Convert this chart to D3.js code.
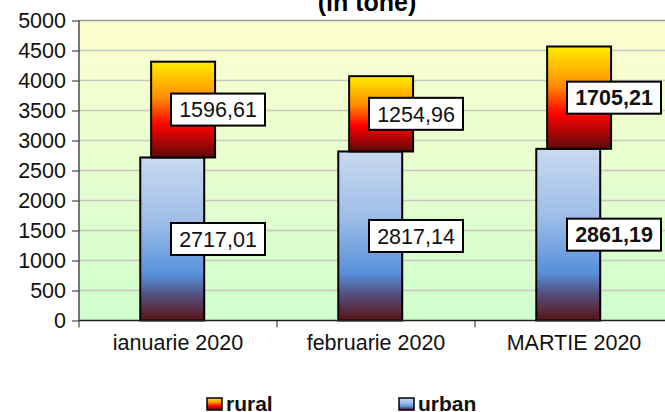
<!DOCTYPE html>
<html>
<head>
<meta charset="utf-8">
<script src="https://cdn.jsdelivr.net/npm/d3@7"></script>
<style>
  body { margin: 0; background: #fff; }
  svg { display: block; font-family: "Liberation Sans", Arial, sans-serif; }
</style>
</head>
<body>
<div class="chart"></div>
<script>
// data (tone)
const months = ['ianuarie 2020', 'februarie 2020', 'MARTIE 2020'];
const urban = [2717.01, 2817.14, 2861.19];
const rural = [1596.61, 1254.96, 1705.21];
const boldLabels = [false, false, true];
const yTicks = [0, 500, 1000, 1500, 2000, 2500, 3000, 3500, 4000, 4500, 5000];
const seriesNames = ['rural', 'urban'];

const width = 665, height = 412;
const plot = {left: 79, top: 20.5, bottom: 320.5, right: 673};

const svg = d3.select('.chart').append('svg')
    .attr('width', width)
    .attr('height', height);

const defs = svg.append('defs');

function grad(id, stops) {
  const g = defs.append('linearGradient').attr('id', id)
      .attr('x1', 0).attr('y1', 0).attr('x2', 0).attr('y2', 1);
  stops.forEach(s => g.append('stop').attr('offset', s[0]).attr('stop-color', s[1]));
}
grad('bg', [[0, '#fdfed0'], [1, '#d0fecd']]);
grad('gUrban', [[0, '#c9d9f0'], [0.4, '#9dbde8'], [0.72, '#5690db'], [0.85, '#544d7a'], [1, '#5c1216']]);
grad('gRural', [[0, '#ffee00'], [0.38, '#ff8c00'], [0.66, '#ff0000'], [1, '#5e0a0a']]);

const x = d3.scaleBand().domain(months).range([plot.left, plot.right]).padding(0);
const y = d3.scaleLinear().domain([0, 5000]).range([plot.bottom, plot.top]);

const barW = x.bandwidth() * 0.323;
const center = d => x(d) + x.bandwidth() / 2;

// plot background
svg.append('rect')
    .attr('x', plot.left).attr('y', plot.top)
    .attr('width', plot.right - plot.left).attr('height', plot.bottom - plot.top)
    .style('fill', 'url(#bg)');

// gridlines
svg.append('g').selectAll('line')
  .data(yTicks.filter(t => t > 0))
  .enter().append('line')
    .attr('x1', plot.left).attr('x2', plot.right)
    .attr('y1', d => y(d)).attr('y2', d => y(d))
    .style('stroke', d => d === 5000 ? '#9a9a9a' : '#c8c8c0')
    .style('stroke-width', 1.5);

// y axis
const yAxis = d3.axisLeft(y).tickValues(yTicks).tickFormat(d3.format('d')).tickSize(7).tickPadding(6);
const gy = svg.append('g')
    .attr('transform', `translate(${plot.left},0)`)
    .call(yAxis);
gy.select('.domain').attr('d', `M0,${plot.top}V${plot.bottom}`).style('stroke', '#222').style('stroke-width', 1.2);
gy.selectAll('.tick line').style('stroke', '#222');
gy.selectAll('.tick text')
    .style('font-size', '21.5px').style('fill', '#111')
    .attr('font-family', '"Liberation Sans", Arial, sans-serif');

// bars
const rows = months.map((m, i) => ({m, u: urban[i], r: rural[i], bold: boldLabels[i]}));

svg.append('g').selectAll('rect')
  .data(rows).enter().append('rect')
    .attr('x', d => center(d.m) - barW * 0.59)
    .attr('y', d => y(d.u))
    .attr('width', barW)
    .attr('height', d => y(0) - y(d.u))
    .style('fill', 'url(#gUrban)')
    .style('stroke', '#000').style('stroke-width', 2);

svg.append('g').selectAll('rect')
  .data(rows).enter().append('rect')
    .attr('x', d => center(d.m) - barW * 0.42)
    .attr('y', d => y(d.u + d.r))
    .attr('width', barW)
    .attr('height', d => y(d.u) - y(d.u + d.r))
    .style('fill', 'url(#gRural)')
    .style('stroke', '#000').style('stroke-width', 2);

// x axis
const xAxis = d3.axisBottom(x).tickSize(0).tickPadding(14);
const gx = svg.append('g')
    .attr('transform', `translate(0,${plot.bottom})`)
    .call(xAxis);
gx.select('.domain').remove();
gx.append('line').attr('x1', plot.left).attr('x2', plot.right)
    .style('stroke', '#222').style('stroke-width', 1.5);
gx.selectAll('.sep').data(months).enter().append('line')
    .attr('x1', d => x(d)).attr('x2', d => x(d))
    .attr('y1', 0).attr('y2', 7)
    .style('stroke', '#222');
gx.selectAll('.tick text')
    .style('font-size', '21.5px').style('fill', '#111')
    .attr('font-family', '"Liberation Sans", Arial, sans-serif');

// value labels
const fmt = v => d3.format('.2f')(v).replace('.', ',');
const labels = [];
rows.forEach(d => {
  labels.push({m: d.m, v: d.r, cy: (y(d.u) + y(d.u + d.r)) / 2, bold: d.bold});
  labels.push({m: d.m, v: d.u, cy: (y(0) + y(d.u)) / 2, bold: d.bold});
});

const lg = svg.append('g').selectAll('g')
  .data(labels).enter().append('g')
    .attr('transform', d => `translate(${center(d.m) + 40},${d.cy})`);
lg.append('rect')
    .attr('x', -47).attr('y', -16).attr('width', 94).attr('height', 32)
    .style('fill', '#fff').style('stroke', '#000').style('stroke-width', 2);
lg.append('text')
    .attr('text-anchor', 'middle').attr('dy', '0.36em')
    .style('font-size', '21.5px')
    .style('font-weight', d => d.bold ? 'bold' : 'normal')
    .style('fill', '#111')
    .text(d => fmt(d.v));

// title (cut at the top, as in the original)
svg.append('text')
    .attr('x', 367).attr('y', 11)
    .attr('text-anchor', 'middle')
    .style('font-size', '25px').style('font-weight', 'bold')
    .text('(în tone)');

// legend
const legendX = [207, 399];
const leg = svg.append('g').selectAll('g')
  .data(seriesNames).enter().append('g')
    .attr('transform', (d, i) => `translate(${legendX[i]},398)`);
leg.append('rect')
    .attr('width', 15).attr('height', 12)
    .style('fill', d => d === 'rural' ? 'url(#gRural)' : 'url(#gUrban)')
    .style('stroke', '#000').style('stroke-width', 1.5);
leg.append('text')
    .attr('x', 19).attr('y', 12.5)
    .style('font-size', '21px').style('font-weight', 'bold')
    .style('fill', '#111')
    .text(d => d);
</script>
</body>
</html>
